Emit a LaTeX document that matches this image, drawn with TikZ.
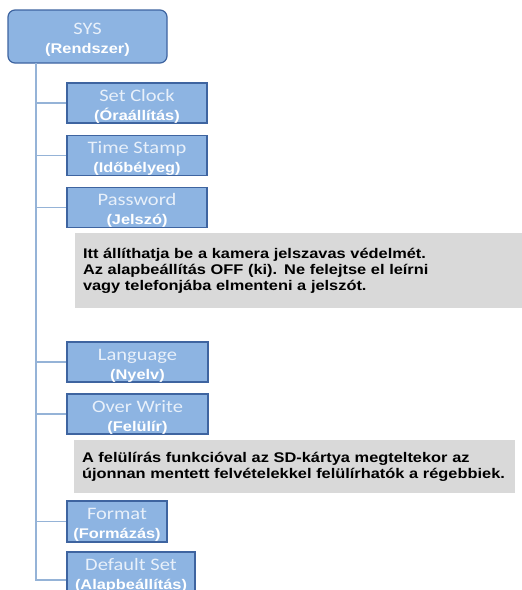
\documentclass[tikz,border=0pt]{standalone}
\usepackage{fontspec}
\setmainfont{Liberation Sans}[FakeStretch=1.17]
\newfontfamily\calibri{Carlito}[FakeStretch=1.17]
\definecolor{boxfill}{RGB}{141,180,226}
\definecolor{boxedge}{RGB}{62,100,160}
\definecolor{toptext}{RGB}{232,240,250}
\definecolor{linkblue}{RGB}{149,179,215}
\definecolor{notegrey}{RGB}{217,217,217}
\newcommand{\menulabel}[2]{{\calibri\fontsize{17.5}{19}\selectfont\color{toptext}\rule{0pt}{18pt}#1}\\{\bfseries #2}}
\tikzset{
    menubox/.style={draw=boxedge, fill=boxfill, line width=1.2pt, text=white, align=center,
        inner sep=0pt, minimum height=40pt, font=\fontsize{14}{19}\selectfont},
    notebox/.style={fill=notegrey, align=left, inner sep=0pt, font=\bfseries\fontsize{14}{16}\selectfont},
    link/.style={draw=linkblue, line width=1.3pt}
}
\begin{document}
\begin{tikzpicture}[x=1pt, y=-1pt]
                \useasboundingbox (0,0) rectangle (522,590);
                \clip (0,0) rectangle (522,590);
                % menu
                \node[menubox, rounded corners=7pt, minimum width=159pt, minimum height=53pt] (sys) at (87.5,36.5) {\menulabel{SYS}{(Rendszer)}};
                \node[menubox, minimum width=140pt] (clock) at (137,103) {\menulabel{Set Clock}{(Óraállítás)}};
                \node[menubox, minimum width=140pt] (stamp) at (137,155.5) {\menulabel{Time Stamp}{(Időbélyeg)}};
                \node[menubox, minimum width=140pt] (pass) at (137,207.5) {\menulabel{Password}{(Jelszó)}};
                \node[notebox, minimum width=447pt, minimum height=75pt, text width=431pt] (passnote) at (298.5,270.5)
                    {Itt állíthatja be a kamera jelszavas védelmét.\\Az alapbeállítás OFF (ki). Ne felejtse el leírni\\vagy telefonjába elmenteni a jelszót.};
                \node[menubox, minimum width=141pt] (lang) at (137.5,362) {\menulabel{Language}{(Nyelv)}};
                \node[menubox, minimum width=141pt] (over) at (137.5,414) {\menulabel{Over Write}{(Felülír)}};
                \node[notebox, minimum width=441pt, minimum height=53pt, text width=425pt] (overnote) at (294.5,466.5)
                    {A felülírás funkcióval az SD-kártya megteltekor az\\újonnan mentett felvételekkel felülírhatók a régebbiek.};
                \node[menubox, minimum width=100pt, minimum height=41pt] (format) at (117,521.5) {\menulabel{Format}{(Formázás)}};
                \node[menubox, minimum width=128pt] (dflt) at (131,572) {\menulabel{Default Set}{(Alapbeállítás)}};
                % tree lines
                \coordinate (root) at (36,63);
                \draw[link] (root) |- ([yshift=-8pt]dflt.west);
                \draw[link] (root) |- (clock.west);
                \draw[link] (root) |- (stamp.west);
                \draw[link] (root) |- (pass.west);
                \draw[link] (root) |- (lang.west);
                \draw[link] (root) |- (over.west);
                \draw[link] (root) |- (format.west);
\end{tikzpicture}
\end{document}
